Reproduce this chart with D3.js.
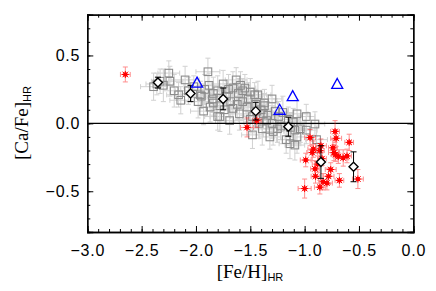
<!DOCTYPE html>
<html>
<head>
<meta charset="utf-8">
<script src="https://cdn.jsdelivr.net/npm/d3@7"></script>
<style>
  body { margin: 0; background: #fff; }
  svg { display: block; }
</style>
</head>
<body>
<svg id="chart" width="436" height="291"></svg>
<script>
// [Fe/H], [Ca/Fe], err x, err y
const grayStars = [
  [-2.39, 0.27, 0.12, 0.10], [-2.36, 0.29, 0.10, 0.08], [-2.33, 0.31, 0.08, 0.09],
  [-2.25, 0.37, 0.10, 0.09], [-2.24, 0.31, 0.12, 0.11], [-2.30, 0.28, 0.09, 0.12],
  [-2.10, 0.32, 0.13, 0.10], [-2.16, 0.21, 0.11, 0.09], [-2.14, 0.17, 0.10, 0.10],
  [-2.02, 0.27, 0.09, 0.08], [-1.98, 0.16, 0.12, 0.12], [-1.95, 0.20, 0.10, 0.09],
  [-1.89, 0.38, 0.11, 0.10], [-1.92, 0.25, 0.13, 0.11], [-1.84, 0.22, 0.10, 0.12],
  [-1.93, 0.09, 0.12, 0.10], [-1.87, 0.12, 0.09, 0.11], [-1.84, 0.15, 0.11, 0.09],
  [-1.80, 0.05, 0.12, 0.10], [-1.96, 0.21, 0.08, 0.10], [-1.88, 0.28, 0.10, 0.09],
  [-1.85, 0.18, 0.11, 0.10], [-1.80, 0.24, 0.12, 0.11], [-1.78, 0.13, 0.10, 0.12],
  [-1.75, 0.29, 0.11, 0.10], [-1.78, 0.05, 0.09, 0.11], [-1.72, 0.20, 0.12, 0.09],
  [-1.70, 0.25, 0.10, 0.11], [-1.69, 0.02, 0.13, 0.10], [-1.68, 0.16, 0.10, 0.09],
  [-1.66, 0.26, 0.09, 0.12], [-1.66, 0.11, 0.11, 0.10], [-1.63, 0.32, 0.10, 0.09],
  [-1.61, 0.22, 0.12, 0.11], [-1.60, 0.07, 0.10, 0.12], [-1.57, 0.16, 0.09, 0.10],
  [-1.57, 0.24, 0.11, 0.09], [-1.55, 0.26, 0.10, 0.10], [-1.53, 0.12, 0.12, 0.11],
  [-1.50, 0.23, 0.10, 0.10], [-1.50, 0.03, 0.11, 0.09], [-1.48, 0.05, 0.09, 0.12],
  [-1.48, -0.085, 0.10, 0.10], [-1.46, 0.21, 0.11, 0.09], [-1.45, 0.14, 0.10, 0.11],
  [-1.43, 0.21, 0.12, 0.10], [-1.42, 0.00, 0.10, 0.11], [-1.40, 0.10, 0.09, 0.10],
  [-1.39, -0.04, 0.11, 0.12], [-1.37, 0.13, 0.10, 0.09], [-1.37, 0.15, 0.12, 0.10],
  [-1.38, 0.07, 0.10, 0.11], [-1.34, 0.06, 0.11, 0.10], [-1.32, -0.10, 0.10, 0.09],
  [-1.30, 0.18, 0.09, 0.10], [-1.30, 0.00, 0.11, 0.11], [-1.29, -0.06, 0.10, 0.10],
  [-1.27, 0.09, 0.12, 0.09], [-1.24, 0.05, 0.10, 0.11], [-1.22, -0.02, 0.11, 0.10],
  [-1.20, 0.08, 0.10, 0.12], [-1.17, -0.12, 0.09, 0.10], [-1.15, 0.03, 0.11, 0.09],
  [-1.135, -0.15, 0.10, 0.11], [-1.13, -0.03, 0.10, 0.10], [-1.105, 0.01, 0.11, 0.10],
  [-1.09, -0.05, 0.10, 0.09], [-1.09, -0.16, 0.09, 0.11], [-1.07, 0.07, 0.10, 0.10],
  [-1.07, -0.10, 0.11, 0.12], [-1.04, -0.04, 0.10, 0.10], [-0.985, 0.05, 0.08, 0.09],
  [-0.985, -0.05, 0.10, 0.10], [-0.905, -0.005, 0.09, 0.09], [-0.89, -0.12, 0.10, 0.10],
  [-1.74, 0.10, 0.11, 0.10], [-1.62, 0.14, 0.10, 0.11], [-1.59, 0.28, 0.09, 0.10],
  [-1.52, 0.18, 0.11, 0.12], [-1.44, 0.09, 0.10, 0.10], [-1.35, 0.02, 0.11, 0.09],
  [-1.25, -0.04, 0.10, 0.10], [-2.07, 0.24, 0.12, 0.10], [-2.20, 0.24, 0.10, 0.12]
];

const redStars = [
  [-2.65, 0.36, 0.045, 0.055], [-1.53, -0.03, 0.06, 0.07], [-1.44, 0.02, 0.04, 0.05],
  [-0.95, -0.105, 0.05, 0.06], [-0.72, -0.06, 0.04, 0.08], [-0.71, -0.11, 0.05, 0.06],
  [-0.59, -0.14, 0.04, 0.06], [-0.85, -0.165, 0.05, 0.05], [-0.74, -0.18, 0.04, 0.06],
  [-0.92, -0.19, 0.05, 0.06], [-0.86, -0.20, 0.04, 0.05], [-0.93, -0.215, 0.05, 0.06],
  [-0.715, -0.23, 0.04, 0.05], [-0.73, -0.215, 0.05, 0.06], [-0.69, -0.245, 0.04, 0.05],
  [-0.645, -0.255, 0.05, 0.06], [-0.61, -0.24, 0.04, 0.05], [-0.99, -0.27, 0.05, 0.05],
  [-0.905, -0.335, 0.04, 0.06], [-0.76, -0.34, 0.05, 0.05], [-0.90, -0.39, 0.04, 0.05],
  [-0.78, -0.39, 0.05, 0.06], [-0.68, -0.42, 0.04, 0.05], [-0.795, -0.44, 0.05, 0.05],
  [-0.83, -0.43, 0.04, 0.06], [-0.86, -0.47, 0.05, 0.05], [-1.00, -0.48, 0.06, 0.07],
  [-0.51, -0.41, 0.05, 0.07], [-0.84, -0.26, 0.04, 0.05], [-0.88, -0.30, 0.05, 0.06]
];

// binned means: [Fe/H], [Ca/Fe], err y
const binMeans = [
  [-2.35, 0.30, 0.04], [-2.05, 0.22, 0.06], [-1.75, 0.18, 0.08], [-1.45, 0.09, 0.065],
  [-1.15, -0.025, 0.07], [-0.85, -0.285, 0.12], [-0.55, -0.32, 0.11]
];

const otherStars = [
  [-1.99, 0.30], [-1.11, 0.20], [-1.23, 0.10], [-0.70, 0.29]
];

const xMajor = [-3.0, -2.5, -2.0, -1.5, -1.0, -0.5, 0.0];
const yMajor = [-0.5, 0.0, 0.5];

const svg = d3.select('#chart');
const m = { l: 87.3, r: 413.3, t: 14.7, b: 232 };

const x = d3.scaleLinear().domain([-3, 0]).range([m.l, m.r]);
const y = d3.scaleLinear().domain([-0.8, 0.8]).range([m.b, m.t]);

const xMinor = d3.range(-30, 1).map(d => d / 10);
const yMinor = d3.range(-8, 9).map(d => d / 10);

const plot = svg.append('g');

// helper for error bars with caps
function errBars (g, data, color, capW, hasX) {
  data.forEach(d => {
    let cx = x(d[0]), cy = y(d[1]);
    let ey = hasX ? d[3] : d[2];
    let y0 = y(d[1] - ey), y1 = y(d[1] + ey);
    g.append('line').attr('x1', cx).attr('x2', cx).attr('y1', y0).attr('y2', y1);
    g.append('line').attr('x1', cx - capW).attr('x2', cx + capW).attr('y1', y0).attr('y2', y0);
    g.append('line').attr('x1', cx - capW).attr('x2', cx + capW).attr('y1', y1).attr('y2', y1);
    if (hasX) {
      let x0 = x(d[0] - d[2]), x1 = x(d[0] + d[2]);
      g.append('line').attr('x1', x0).attr('x2', x1).attr('y1', cy).attr('y2', cy);
      g.append('line').attr('x1', x0).attr('x2', x0).attr('y1', cy - capW).attr('y2', cy + capW);
      g.append('line').attr('x1', x1).attr('x2', x1).attr('y1', cy - capW).attr('y2', cy + capW);
    }
  });
  g.attr('stroke', color).attr('stroke-width', 1).attr('fill', 'none');
}

errBars(plot.append('g').attr('opacity', 0.6), grayStars, '#b4b4b4', 2.5, true);
plot.append('g').selectAll('rect').data(grayStars).join('rect')
  .attr('x', d => x(d[0]) - 3.8).attr('y', d => y(d[1]) - 3.8)
  .attr('width', 7.6).attr('height', 7.6)
  .attr('fill', 'none').attr('stroke', '#8c8c8c').attr('stroke-width', 1.1);

// zero line
plot.append('line').attr('x1', m.l).attr('x2', m.r).attr('y1', y(0)).attr('y2', y(0))
  .attr('stroke', '#000').attr('stroke-width', 1.2);

errBars(plot.append('g').attr('opacity', 0.5), redStars, '#ff2020', 2.5, true);
let red = plot.append('g').attr('stroke', '#ff0000').attr('fill', '#ff0000');
redStars.forEach(d => {
  let cx = x(d[0]), cy = y(d[1]);
  red.append('rect').attr('x', cx - 2).attr('y', cy - 2).attr('width', 4).attr('height', 4).attr('stroke', 'none');
  red.append('path').attr('stroke-width', 1)
    .attr('d', `M${cx - 3.5},${cy}H${cx + 3.5}M${cx},${cy - 3.5}V${cy + 3.5}` +
      `M${cx - 2.8},${cy - 2.8}L${cx + 2.8},${cy + 2.8}M${cx - 2.8},${cy + 2.8}L${cx + 2.8},${cy - 2.8}`);
});

errBars(plot.append('g'), binMeans, '#000', 3, false);
plot.append('g').selectAll('path').data(binMeans).join('path')
  .attr('d', d => {
    let cx = x(d[0]), cy = y(d[1]);
    return `M${cx},${cy - 4.5}L${cx + 4.5},${cy}L${cx},${cy + 4.5}L${cx - 4.5},${cy}Z`;
  })
  .attr('fill', '#fff').attr('stroke', '#000').attr('stroke-width', 1.4);

plot.append('g').selectAll('path').data(otherStars).join('path')
  .attr('d', d => {
    let cx = x(d[0]), cy = y(d[1]);
    return `M${cx},${cy - 5.5}L${cx + 5.5},${cy + 4.5}L${cx - 5.5},${cy + 4.5}Z`;
  })
  .attr('fill', 'none').attr('stroke', '#0000ff').attr('stroke-width', 1.3);

// axes, ticks pointing in, like IDL
const fmt = d3.format('.1f');
function mountAxis (axis, pos, labels) {
  let g = svg.append('g').attr('transform', `translate(${pos[0]},${pos[1]})`).call(axis);
  g.select('.domain').attr('stroke', '#000').attr('stroke-width', 1.3);
  g.selectAll('.tick line').attr('stroke', '#000');
  if (!labels) g.selectAll('text').remove();
  return g;
}

mountAxis(d3.axisBottom(x).tickValues(xMinor).tickSize(-3).tickFormat(''), [0, m.b]);
mountAxis(d3.axisTop(x).tickValues(xMinor).tickSize(-3).tickFormat(''), [0, m.t]);
mountAxis(d3.axisLeft(y).tickValues(yMinor).tickSize(-3).tickFormat(''), [m.l, 0]);
mountAxis(d3.axisRight(y).tickValues(yMinor).tickSize(-3).tickFormat(''), [m.r, 0]);

let xb = mountAxis(d3.axisBottom(x).tickValues(xMajor).tickSize(-6).tickPadding(13).tickFormat(fmt), [0, m.b], true);
mountAxis(d3.axisTop(x).tickValues(xMajor).tickSize(-6).tickFormat(''), [0, m.t]);
let yl = mountAxis(d3.axisLeft(y).tickValues(yMajor).tickSize(-6).tickPadding(7).tickFormat(fmt), [m.l, 0], true);
mountAxis(d3.axisRight(y).tickValues(yMajor).tickSize(-6).tickFormat(''), [m.r, 0]);

[xb, yl].forEach(g => g.selectAll('text')
  .attr('font-family', 'Liberation Sans, Arial, sans-serif').attr('font-size', 16)
  .attr('letter-spacing', 0.8).attr('fill', '#000'));

// axis titles
let xt = svg.append('text').attr('x', 250).attr('y', 278).attr('text-anchor', 'middle')
  .attr('font-family', 'Liberation Serif, Times New Roman, serif').attr('font-size', 19);
xt.append('tspan').text('[Fe/H]');
xt.append('tspan').text('HR').attr('font-family', 'Liberation Sans, Arial, sans-serif')
  .attr('font-size', 11).attr('dy', 3);

let yt = svg.append('text').attr('transform', 'translate(28,123) rotate(-90)').attr('text-anchor', 'middle')
  .attr('font-family', 'Liberation Serif, Times New Roman, serif').attr('font-size', 19);
yt.append('tspan').text('[Ca/Fe]');
yt.append('tspan').text('HR').attr('font-family', 'Liberation Sans, Arial, sans-serif')
  .attr('font-size', 11).attr('dy', 3);
</script>
</body>
</html>
